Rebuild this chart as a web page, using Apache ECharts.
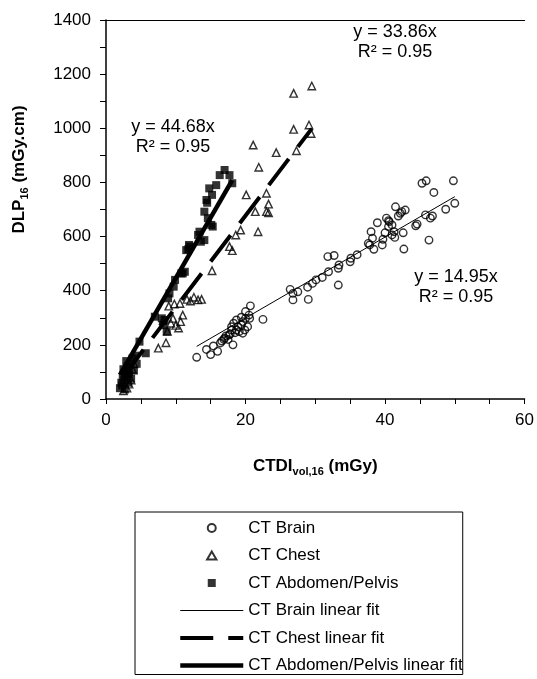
<!DOCTYPE html>
<html>
<head>
<meta charset="utf-8">
<script src="https://cdn.jsdelivr.net/npm/echarts@6/dist/echarts.min.js"></script>
<style>
  html, body { margin: 0; padding: 0; background: #fff; }
  #main { width: 537px; height: 679px; }
</style>
</head>
<body>
<div id="main"></div>
<script>
// CTDIvol,16 (mGy) vs DLP16 (mGy.cm)
const brainPts = [
  [13.0, 154], [14.4, 183], [15.0, 164], [15.4, 196], [16.0, 176], [16.4, 207], [16.6, 214],
  [16.9, 220], [17.0, 225], [17.2, 233], [17.5, 220], [17.6, 236], [17.8, 240], [18.0, 255],
  [18.2, 200], [18.0, 267], [18.3, 280], [18.5, 245], [18.7, 292], [18.9, 267], [18.7, 255],
  [19.1, 249], [19.4, 273], [19.6, 286], [19.4, 302], [19.6, 243], [19.9, 255], [20.0, 298],
  [20.3, 267], [20.0, 323], [20.5, 310], [20.6, 298], [20.7, 344], [22.5, 294],
  [26.4, 405], [26.8, 390], [27.5, 396], [26.8, 366], [29.0, 368], [28.9, 413], [29.6, 427],
  [30.1, 440], [31.0, 449], [31.9, 470], [31.8, 526], [32.7, 530], [33.3, 421], [33.4, 495],
  [33.3, 483], [35.0, 507], [35.1, 520], [36.0, 533], [37.6, 575], [37.8, 569], [38.0, 618],
  [38.2, 594], [38.4, 553], [38.9, 651], [39.6, 569], [39.7, 590], [40.0, 614], [40.2, 668],
  [40.5, 637], [40.6, 655], [41.0, 643], [40.5, 659], [41.0, 606], [41.3, 618], [41.4, 597],
  [41.5, 710], [41.9, 676], [42.2, 686], [42.4, 692], [42.9, 698], [42.6, 614], [42.7, 554],
  [44.4, 640], [44.6, 646], [45.3, 797], [45.9, 806], [47.0, 763], [45.8, 680], [46.5, 668],
  [46.8, 676], [46.3, 587], [48.7, 701], [49.8, 806], [50.0, 723]
];
const chestPts = [
  [2.5, 30], [3.0, 40], [3.3, 55], [3.6, 70], [3.2, 95], [3.8, 110], [4.0, 130],
  [7.5, 188], [8.6, 208], [9.0, 343], [9.8, 351], [10.6, 353], [9.3, 280], [10.0, 272],
  [10.7, 286], [11.0, 310], [9.6, 298], [10.4, 262], [8.2, 290], [8.8, 250],
  [11.6, 368], [12.1, 362], [12.6, 376], [13.2, 366], [13.7, 368], [15.2, 474],
  [17.7, 563], [18.1, 548], [18.6, 606], [19.3, 624], [21.8, 618], [21.4, 692], [23.0, 692],
  [23.3, 720], [23.3, 688], [20.1, 754], [23.0, 760], [21.9, 856], [21.1, 938], [24.4, 910],
  [27.3, 917], [26.9, 996], [29.1, 1012], [29.4, 981], [26.9, 1129], [29.5, 1156]
];
const abdPts = [
  [2.0, 40], [2.2, 60], [2.3, 50], [2.4, 80], [2.6, 70], [2.7, 35], [2.8, 95], [2.5, 110],
  [3.0, 85], [3.1, 120], [3.2, 60], [3.3, 100], [3.5, 130], [2.9, 140], [3.6, 75],
  [3.8, 150], [4.0, 105], [4.2, 160], [4.4, 130], [5.7, 169], [4.8, 212],
  [7.0, 304], [8.0, 298], [8.2, 273], [8.4, 292], [8.7, 249], [8.9, 372], [9.1, 390],
  [9.7, 415], [9.9, 440], [10.8, 464], [11.3, 470], [11.0, 464], [11.5, 550], [11.8, 553],
  [11.9, 569], [12.0, 563], [13.2, 606], [13.4, 618], [13.6, 581], [14.1, 587], [14.6, 668],
  [15.1, 643], [15.3, 637], [14.1, 692], [14.5, 725], [14.4, 735], [15.2, 754], [14.8, 778],
  [15.8, 790], [16.3, 827], [17.0, 846], [17.7, 827], [18.1, 797]
];

const seriesNames = ['CT Brain', 'CT Chest', 'CT Abdomen/Pelvis'];
const fitNames = ['CT Brain linear fit', 'CT Chest linear fit', 'CT Abdomen/Pelvis linear fit'];
const fitSlopes = [14.95, 33.86, 44.68];
const fitR2 = ['0.95', '0.95', '0.95'];
const fitXMin = [13.0, 2.5, 2.0];
const fitXMax = [50.0, 29.5, 18.1];

const xTicks = [0, 20, 40, 60];
const yTicks = [0, 200, 400, 600, 800, 1000, 1200, 1400];

const FONT = 'Arial, "Liberation Sans", sans-serif';

// legend marker shapes (kept square so they are not stretched)
const legendIcons = [
  'path://M1,4A3,3,0,1,1,7,4A3,3,0,1,1,1,4Z',
  'path://M4,1L7.5,7L0.5,7Z',
  'path://M0,0H8V8H0Z',
];

var chart = echarts.init(document.getElementById('main'));

const fitLine = (i) => [
  [fitXMin[i], fitSlopes[i] * fitXMin[i]],
  [fitXMax[i], fitSlopes[i] * fitXMax[i]],
];
const eqText = (i) => 'y = ' + fitSlopes[i].toFixed(2) + 'x\nR² = ' + fitR2[i];

const hollow = { color: 'rgba(0,0,0,0)', borderColor: '#000', borderWidth: 1.4 };
const titleRich = {
  b: { fontSize: 17, fontWeight: 'bold', fontFamily: FONT, color: '#000', lineHeight: 22 },
  s: { fontSize: 11, fontWeight: 'bold', fontFamily: FONT, color: '#000', lineHeight: 11, verticalAlign: 'bottom' },
};

const legendData = seriesNames
  .map((n, i) => ({ name: n, icon: legendIcons[i] }))
  .concat(fitNames.map((n) => ({ name: n, itemStyle: { opacity: 0 } })));

const option = {
  animation: false,
  backgroundColor: '#fff',
  textStyle: { fontFamily: FONT },
  grid: { left: 106, top: 20, width: 420, height: 379 },
  xAxis: [
    {
      type: 'value',
      min: xTicks[0],
      max: xTicks[xTicks.length - 1],
      interval: xTicks[1] - xTicks[0],
      name: '{b|CTDI}{s|vol,16}{b| (mGy)}',
      nameLocation: 'middle',
      nameGap: 56,
      nameTextStyle: { rich: titleRich },
      axisLine: { show: true, onZero: false, lineStyle: { color: '#000', width: 1.5 } },
      axisTick: { show: true, inside: false, length: 5, lineStyle: { color: '#000' } },
      minorTick: { show: true, splitNumber: 4, length: 5, lineStyle: { color: '#000' } },
      axisLabel: { fontSize: 17, fontFamily: FONT, color: '#000', margin: 13, formatter: (v) => String(v) },
      splitLine: { show: false },
    },
    {
      // top frame line
      type: 'value',
      position: 'top',
      min: xTicks[0],
      max: xTicks[xTicks.length - 1],
      axisLine: { show: true, onZero: false, lineStyle: { color: '#000', width: 1.2 } },
      axisTick: { show: false },
      axisLabel: { show: false },
      splitLine: { show: false },
    },
  ],
  yAxis: {
    type: 'value',
    min: yTicks[0],
    max: yTicks[yTicks.length - 1],
    interval: yTicks[1] - yTicks[0],
    name: '{b|DLP}{s|16}{b| (mGy.cm)}',
    nameLocation: 'middle',
    nameRotate: 90,
    nameGap: 76,
    nameTextStyle: { rich: titleRich, padding: [0, 0, 0, 80] },
    axisLine: { show: true, onZero: false, lineStyle: { color: '#000', width: 1.5 } },
    axisTick: { show: true, inside: false, length: 6, lineStyle: { color: '#000' } },
    minorTick: { show: true, splitNumber: 2, length: 6, lineStyle: { color: '#000' } },
    axisLabel: { fontSize: 17, fontFamily: FONT, color: '#000', margin: 15, formatter: (v) => String(v) },
    splitLine: { show: false },
  },
  legend: {
    orient: 'vertical',
    left: 135,
    top: 512,
    padding: [7, 0, 0, 43],
    borderColor: '#000',
    borderWidth: 1,
    itemWidth: 63,
    itemHeight: 8,
    itemGap: 9.5,
    symbolKeepAspect: true,
    lineStyle: { width: 'inherit' },
    textStyle: { fontSize: 17, fontFamily: FONT, color: '#000', lineHeight: 18 },
    data: legendData,
  },
  series: [
    {
      name: seriesNames[0],
      type: 'scatter',
      symbol: 'circle',
      symbolSize: 7.5,
      itemStyle: hollow,
      data: brainPts,
      z: 2,
    },
    {
      name: seriesNames[1],
      type: 'scatter',
      symbol: 'triangle',
      symbolSize: 7.5,
      itemStyle: hollow,
      data: chestPts,
      z: 2,
    },
    {
      name: seriesNames[2],
      type: 'scatter',
      symbol: 'rect',
      symbolSize: 8,
      itemStyle: { color: '#000' },
      data: abdPts,
      z: 2,
    },
    {
      name: fitNames[0],
      type: 'line',
      symbol: 'none',
      data: fitLine(0),
      lineStyle: { color: '#000', width: 1 },
      itemStyle: { color: '#000' },
      z: 3,
    },
    {
      name: fitNames[1],
      type: 'line',
      symbol: 'none',
      data: fitLine(1),
      lineStyle: { color: '#000', width: 4, type: [33, 15] },
      itemStyle: { color: '#000' },
      z: 3,
    },
    {
      name: fitNames[2],
      type: 'line',
      symbol: 'none',
      data: fitLine(2),
      lineStyle: { color: '#000', width: 4.5 },
      itemStyle: { color: '#000' },
      z: 3,
    },
  ],
  graphic: [
    { type: 'text', x: 173, y: 137, style: { text: eqText(2), font: '18px ' + FONT, fill: '#000', textAlign: 'center', textVerticalAlign: 'middle', lineHeight: 19.5 } },
    { type: 'text', x: 395, y: 42, style: { text: eqText(1), font: '18px ' + FONT, fill: '#000', textAlign: 'center', textVerticalAlign: 'middle', lineHeight: 19.5 } },
    { type: 'text', x: 456, y: 287, style: { text: eqText(0), font: '18px ' + FONT, fill: '#000', textAlign: 'center', textVerticalAlign: 'middle', lineHeight: 19.5 } },
  ],
};

chart.setOption(option);
</script>
</body>
</html>
